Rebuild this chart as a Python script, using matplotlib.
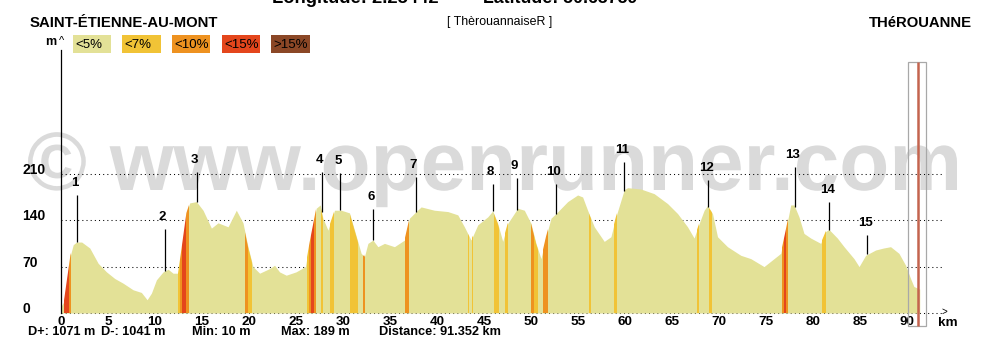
import numpy as np
import matplotlib
matplotlib.use("Agg")
import matplotlib.pyplot as plt
from matplotlib.patches import Rectangle, PathPatch
from matplotlib.textpath import TextPath
from matplotlib.font_manager import FontProperties
from matplotlib.transforms import Affine2D

plt.rcParams['font.family'] = ['Liberation Sans', 'DejaVu Sans']

# ---- elevation profile (km, m) ----
dist_km = [0.0, 0.3, 0.65, 1.0, 1.3, 1.65, 2.2, 3.06, 3.95, 4.84, 5.72, 6.6, 7.67, 8.55,
           9.16, 9.62, 10.15, 10.86, 11.39, 11.92, 12.45, 12.8, 13.34, 13.69, 14.4, 15.11,
           16.0, 16.7, 17.77, 18.65, 19.36, 19.89, 20.42, 21.13, 22.19, 22.72, 23.25, 23.96,
           25.0, 26.0, 26.44, 27.15, 27.58, 27.86, 28.4, 29.1, 29.81, 30.69, 31.22, 31.93,
           32.28, 32.65, 33.18, 33.71, 34.41, 35.47, 36.54, 37.07, 37.78, 38.31, 39.72, 41.15,
           42.21, 42.91, 43.62, 44.34, 45.4, 45.93, 46.46, 46.99, 47.52, 48.59, 49.29, 50.0,
           50.53, 51.06, 51.59, 52.13, 52.66, 53.9, 54.96, 55.49, 56.02, 56.73, 57.79, 58.5,
           59.03, 59.92, 60.28, 61.69, 63.1, 64.53, 65.59, 66.65, 67.35, 67.89, 68.42, 68.78,
           69.31, 69.84, 70.9, 72.32, 73.38, 74.79, 75.68, 76.57, 77.1, 77.63, 77.98, 78.51,
           79.04, 79.76, 80.82, 81.35, 81.7, 82.59, 83.3, 84.36, 84.9, 85.6, 86.66, 87.5,
           88.25, 89.14, 89.85, 90.38, 90.73, 91.35]
elev_m = [10, 17, 52, 87, 103, 107, 107, 98, 75, 62, 52, 45, 35, 31,
          20, 30, 50, 62, 66, 60, 60, 95, 151, 166, 168, 155,
          128, 136, 130, 155, 136, 100, 70, 60, 67, 72, 62, 57,
          62, 70, 106, 158, 163, 143, 125, 155, 155, 151, 125, 90,
          85, 105, 110, 100, 105, 100, 110, 143, 153, 160, 155, 153,
          148, 130, 110, 133, 145, 154, 135, 108, 135, 158, 155, 135,
          105, 82, 115, 143, 150, 168, 178, 175, 155, 130, 108, 115,
          145, 186, 189, 187, 180, 165, 150, 130, 113, 135, 155, 162,
          150, 115, 100, 87, 82, 70, 80, 90, 125, 163, 163, 145,
          120, 113, 105, 123, 126, 113, 100, 82, 70, 87, 95, 98,
          100, 90, 72, 52, 40, 36]

# ---- slope classes ----
slope_labels = ['<5%', '<7%', '<10%', '<15%', '>15%']
slope_colors = ['#e3e197', '#f1c336', '#ee9220', '#e4461c', '#8b4726']

# stretches steeper than 5 % (start km, end km, slope class index)
stripe_start = [0.30, 0.85, 12.45, 12.63, 12.88, 13.34, 19.53, 19.89, 26.16, 26.37, 26.62,
                26.87, 27.61, 28.64, 30.75, 32.11, 36.64, 43.27, 43.73, 46.10, 47.24, 50.00,
                50.35, 51.31, 56.20, 58.85, 67.71, 68.95, 76.75, 76.92, 77.17, 81.00]
stripe_end = [0.85, 1.05, 12.63, 12.88, 13.34, 13.63, 19.89, 20.35, 26.37, 26.62, 26.87,
              27.08, 27.86, 28.99, 31.58, 32.36, 37.07, 43.41, 43.87, 46.63, 47.59, 50.35,
              50.70, 51.77, 56.34, 59.10, 67.88, 69.24, 76.92, 77.17, 77.39, 81.42]
stripe_class = [3, 2, 1, 2, 3, 2, 2, 1, 1, 2, 3, 2, 1, 1, 1, 2, 2, 1, 1, 1, 1, 2,
                1, 2, 1, 1, 1, 1, 2, 3, 2, 1]

# ---- numbered waypoints ----
marker_km = [1.73, 11.03, 14.42, 27.72, 29.72, 33.18, 37.72, 45.91, 48.46, 52.61,
             59.87, 68.86, 78.07, 81.75, 85.78]
marker_top = [178, 127, 213, 213, 211, 157, 205, 195, 204, 195, 227, 200, 220, 167, 118]

grid_levels = [0, 70, 140, 210]
x_ticks = list(range(0, 91, 5))

start_name = 'SAINT-ÉTIENNE-AU-MONT'
end_name = 'THéROUANNE'
route_name = '[ ThèrouannaiseR ]'
longitude = '2.25442'
latitude = '50.63759'
d_plus, d_minus = 1071, 1041
min_elev, max_elev = 10, 189
total_km = 91.352
cursor_km = 91.14

# ---- layout in pixels ----
W, H = 990, 340
X0, KM_PX = 61.0, 9.40          # x pixel of km 0, pixels per km
Y0, M_PX = 313.0, 0.663         # y pixel (from top) of 0 m, pixels per metre
AX_RIGHT, AX_TOP = 942.0, 50.0


def fx(px):
    return px / W


def fy(py):
    return 1.0 - py / H


fig = plt.figure(figsize=(W / 100, H / 100), dpi=100)
fig.patch.set_facecolor('white')

# watermark
wm_prop = FontProperties(family='Liberation Sans', weight='bold')
wm_path = TextPath((0, 0), '© www.openrunner.com', size=1, prop=wm_prop)
bb = wm_path.get_extents()
sx = (957 - 28) / bb.width
sy = 43 / 0.519
wm_tr = (Affine2D().scale(sx, sy).translate(28 - bb.x0 * sx, H - 190)
         + Affine2D().scale(1 / W, 1 / H) + fig.transFigure)
fig.add_artist(PathPatch(wm_path, transform=wm_tr, fc='#dadada', ec='none', zorder=-1))

ax = fig.add_axes([fx(X0), fy(Y0), (AX_RIGHT - X0) / W, (Y0 - AX_TOP) / H])
ax.patch.set_visible(False)
ax.set_xlim(0, (AX_RIGHT - X0) / KM_PX)
ax.set_ylim(0, (Y0 - AX_TOP) / M_PX)

# dotted reference levels
for lev in grid_levels:
    ax.axhline(lev, color='black', lw=0.75, ls=(0, (1, 3)), zorder=1, clip_on=False)

# profile
profile = ax.fill_between(dist_km, elev_m, 0, color=slope_colors[0], lw=0, zorder=2)
clip_path = profile.get_paths()[0]
for s, e, c in zip(stripe_start, stripe_end, stripe_class):
    band = ax.axvspan(s, e, color=slope_colors[c], lw=0, zorder=3)
    band.set_clip_path(clip_path, ax.transData)

# waypoint markers
bases = np.interp(marker_km, dist_km, elev_m)
ax.vlines(marker_km, bases, marker_top, color='black', lw=0.9, zorder=4)
for i, (k, top) in enumerate(zip(marker_km, marker_top)):
    ax.annotate(str(i + 1), (k, top), xytext=(-1.5, 6.5), textcoords='offset points',
                ha='center', va='baseline', fontsize=9.5, fontweight='bold', zorder=5)

# cursor
y_lo, y_hi = (Y0 - 326) / M_PX, (Y0 - 62) / M_PX
ax.add_patch(Rectangle((cursor_km - 1.03, y_lo), 1.91, y_hi - y_lo, fill=False,
                       ec='#a8a8a8', lw=0.9, clip_on=False, zorder=6))
ax.vlines([cursor_km], y_lo, y_hi, color='#c4644e', lw=1.8, clip_on=False, zorder=6)

# axes styling
for side in ['top', 'right', 'bottom']:
    ax.spines[side].set_visible(False)
ax.spines['left'].set_color('black')
ax.spines['left'].set_linewidth(0.9)
ax.spines['left'].set_zorder(5)

ax.set_xticks(x_ticks)
ax.set_xticklabels([str(t) for t in x_ticks], fontweight='bold')
ax.tick_params(axis='x', length=0, pad=2, labelsize=9.7)
ax.set_yticks(grid_levels)
ax.set_yticklabels([str(v) for v in grid_levels], fontweight='bold')
ax.tick_params(axis='y', length=0, pad=(X0 - 22) * 0.72, labelsize=10)
for lbl in ax.get_yticklabels():
    lbl.set_horizontalalignment('left')
    lbl.set_verticalalignment('baseline')

# axis captions
fig.text(fx(51), fy(45), 'm', fontsize=9, fontweight='bold', ha='center', va='baseline')
fig.text(fx(62), fy(44), '^', fontsize=8, ha='center', va='baseline')
fig.text(fx(944.5), fy(312), '>', fontsize=7, ha='center', va='center')
fig.text(fx(947.5), fy(325.5), 'km', fontsize=9.7, fontweight='bold', ha='center',
         va='baseline')

# header
fig.text(fx(272), fy(3.2), f'Longitude: {longitude}', fontsize=13.2, fontweight='bold',
         va='baseline')
fig.text(fx(483), fy(3.2), f'Latitude: {latitude}', fontsize=12.8, fontweight='bold',
         va='baseline')
fig.text(fx(30), fy(26.7), start_name, fontsize=10.7, fontweight='bold', va='baseline')
fig.text(fx(971.7), fy(26.7), end_name, fontsize=10.7, fontweight='bold', ha='right',
         va='baseline')
fig.text(fx(500), fy(25.5), route_name, fontsize=8.9, ha='center', va='baseline')

# slope legend
for i, (lab, col) in enumerate(zip(slope_labels, slope_colors)):
    left = 72.7 + i * 49.6
    fig.add_artist(Rectangle((fx(left), fy(52.7)), 38.5 / W, 17.7 / H,
                             transform=fig.transFigure, fc=col, ec='none'))
    fig.text(fx(left + 2.5), fy(48.3), lab, fontsize=9.5, va='baseline')

# summary line
stats = [(28.3, f'D+: {d_plus} m'), (101, f'D-: {d_minus} m'), (191.7, f'Min: {min_elev} m'),
         (281, f'Max: {max_elev} m'), (379, f'Distance: {total_km:.3f} km')]
for px, s in stats:
    fig.text(fx(px), fy(335), s, fontsize=9.2, fontweight='bold', va='baseline')

fig.savefig('out.png', dpi=100)
